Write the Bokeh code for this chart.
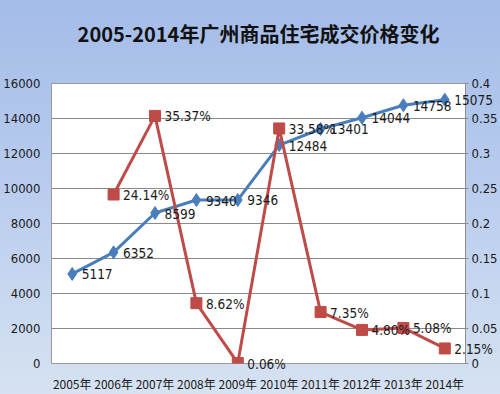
from bokeh.plotting import figure
from bokeh.models import (ColumnDataSource, Range1d, FactorRange, LinearAxis,
                          SingleIntervalTicker, CustomJSTickFormatter, LabelSet,
                          InlineStyleSheet, Title)
from bokeh.core.properties import value
from bokeh.embed import file_html
from bokeh.resources import INLINE
try:
    from bokeh.models import HTMLLabelSet as LabelCls
except ImportError:
    LabelCls = LabelSet

years = ["2005年", "2006年", "2007年", "2008年", "2009年",
         "2010年", "2011年", "2012年", "2013年", "2014年"]
price = [5117, 6352, 8599, 9340, 9346, 12484, 13401, 14044, 14758, 15075]
growth_years = years[1:]
growth = [0.2414, 0.3537, 0.0862, 0.0006, 0.3358, 0.0735, 0.0480, 0.0508, 0.0215]

title = "2005-2014年广州商品住宅成交价格变化"
BLUE = "#4a7ebb"
RED = "#be4b48"
NARROW = "DejaVu Sans Condensed"

price_src = ColumnDataSource(dict(x=years, y=price, t=[str(v) for v in price]))
growth_src = ColumnDataSource(dict(x=growth_years, y=growth,
                                   t=[f"{g*100:.2f}%" for g in growth]))

css = InlineStyleSheet(css=":host { background: linear-gradient(180deg, #a3bce8 0%, #b8cbee 45%, #d6e2f2 100%); }")

p = figure(width=500, height=394, title=None, x_range=FactorRange(*years, range_padding=0),
           y_range=Range1d(0, 16000), output_backend="svg", toolbar_location=None,
           min_border_top=83, min_border_left=50, min_border_right=32, min_border_bottom=31)
p.stylesheets = [css]
p.border_fill_color = None
p.background_fill_color = "white"
p.outline_line_color = "#9a9a9a"
p.outline_line_width = 1

# spacer next to the frame, then the main title above it
p.add_layout(Title(text=" ", text_font_size="1px", standoff=31), "above")
p.add_layout(Title(text=title, align="center", vertical_align="bottom",
                   text_font="Noto Sans CJK SC", text_font_size="20px",
                   text_font_style="bold", text_color="#111111", standoff=4), "above")

p.extra_y_ranges = {"g": Range1d(0, 0.4)}

p.xgrid.grid_line_color = None
p.ygrid.grid_line_color = "#8a8a8a"
p.ygrid.grid_line_width = 1
p.yaxis.ticker = SingleIntervalTicker(interval=2000)

for ax in (p.xaxis[0], p.yaxis[0]):
    ax.axis_line_color = None
    ax.major_tick_line_color = None
    ax.minor_tick_line_color = None
    ax.major_tick_out = 0
    ax.major_tick_in = 0
    ax.minor_tick_out = 0
    ax.major_label_text_font = NARROW
    ax.major_label_text_font_size = "13px"
    ax.major_label_text_color = "#1a1a1a"
p.yaxis.major_label_standoff = 11
p.xaxis.major_label_standoff = 11
p.xaxis.major_label_text_font = "Noto Sans CJK SC"
p.xaxis.major_label_text_font_size = "12px"

raxis = LinearAxis(y_range_name="g", ticker=SingleIntervalTicker(interval=0.05),
                   formatter=CustomJSTickFormatter(code="return String(Math.round(tick*100)/100);"))
raxis.axis_line_color = "#8e8e8e"
raxis.major_tick_line_color = "#8e8e8e"
raxis.major_tick_in = 0
raxis.major_tick_out = 3
raxis.minor_tick_line_color = None
raxis.minor_tick_out = 0
raxis.major_label_standoff = 3
raxis.major_label_text_font = NARROW
raxis.major_label_text_font_size = "13px"
raxis.major_label_text_color = "#1a1a1a"
p.add_layout(raxis, "right")

p.line("x", "y", source=price_src, line_color=BLUE, line_width=3)
p.scatter("x", "y", source=price_src, marker="diamond", size=13,
          fill_color=BLUE, line_color=BLUE)
p.line("x", "y", source=growth_src, y_range_name="g", line_color=RED, line_width=3)
p.scatter("x", "y", source=growth_src, y_range_name="g", marker="square", size=11,
          fill_color=RED, line_color=RED)

for src, rng in ((price_src, "default"), (growth_src, "g")):
    ls = LabelCls(x="x", y="y", text="t", source=src, y_range_name=rng,
                  x_offset=10, y_offset=-1, text_baseline="middle", text_align="left",
                  text_font=value(NARROW), text_font_size="13.5px", text_color="#1a1a1a")
    p.add_layout(ls)

open("out.html", "w").write(file_html(p, INLINE))
